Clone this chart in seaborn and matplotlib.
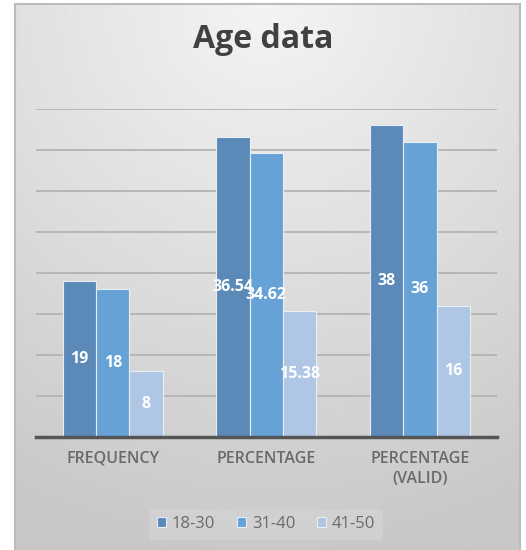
import numpy as np
import pandas as pd
import matplotlib
matplotlib.use("Agg")
import matplotlib.pyplot as plt
import seaborn as sns
from matplotlib.patches import Rectangle

categories = ["FREQUENCY", "PERCENTAGE", "PERCENTAGE\n(VALID)"]
age_groups = ["18-30", "31-40", "41-50"]
v_18_30 = [19, 36.54, 38]
v_31_40 = [18, 34.62, 36]
v_41_50 = [8, 15.38, 16]
colors = ["#5b8ab8", "#67a2d6", "#afc7e5"]

df = pd.DataFrame({
    "category": categories * 3,
    "age": [g for g in age_groups for _ in categories],
    "value": v_18_30 + v_31_40 + v_41_50,
})

sns.set_theme(style="white")
plt.rcParams["font.family"] = ["Open Sans", "DejaVu Sans"]

W, H = 526, 550
fig = plt.figure(figsize=(W / 100, H / 100), dpi=100)

# chart background: gray gradient inside a framed panel
bg = fig.add_axes([0, 0, 1, 1], zorder=-10)
bg.set_xlim(0, W)
bg.set_ylim(H, 0)
bg.axis("off")
x0, x1, y0, y1 = 15, 520, 4, 551
yy, xx = np.mgrid[0:200, 0:200]
u = xx / 199.0
v = yy / 199.0
d = np.sqrt(((u - 0.5) * 0.9) ** 2 + (v * 1.0) ** 2)
d = np.clip(d / 1.0, 0, 1)
top, bot = 0.955, 0.785
grad = top - (top - bot) * d
bg.imshow(grad, cmap="gray", vmin=0, vmax=1, extent=[x0, x1, y1, y0],
          aspect="auto", interpolation="bilinear")
bg.add_patch(Rectangle((x0, y0), x1 - x0, y1 - y0, fill=False,
                       edgecolor="#bcbcbc", linewidth=1.5))

ax = fig.add_axes([36 / W, 1 - 436.7 / H, (496.7 - 36) / W, (436.7 - 109) / H])
ax.patch.set_alpha(0)
sns.barplot(data=df, x="category", y="value", hue="age", order=categories,
            hue_order=age_groups, palette=colors, width=0.65, ax=ax,
            edgecolor="#e8eef6", linewidth=0.8, saturation=1, legend=True,
            zorder=3)
ax.set_ylim(0, 40)
ax.set_yticks(np.arange(5, 41, 5))
ax.yaxis.grid(True, color="#b3b3b3", linewidth=1.3, zorder=0)
ax.set_axisbelow(True)
ax.tick_params(axis="y", left=False, labelleft=False)
ax.tick_params(axis="x", bottom=False, pad=4)
ax.set_xticks(range(len(categories)))
ax.set_xticklabels(categories, fontsize=11.5, color="#6a6a6a",
                   fontweight="semibold", linespacing=1.4)
ax.set_xlabel("")
ax.set_ylabel("")
for s in ["left", "right", "top"]:
    ax.spines[s].set_visible(False)
ax.spines["bottom"].set_color("#555555")
ax.spines["bottom"].set_linewidth(2.5)
ax.spines["bottom"].set_zorder(4)

for cont in ax.containers:
    ax.bar_label(cont, label_type="center", fmt="{:g}", color="white",
                 fontsize=11.5, fontweight="bold", zorder=5)

handles, labels = ax.get_legend_handles_labels()
ax.legend(handles, labels, loc="center", bbox_to_anchor=(266 / W, 1 - 524 / H),
          bbox_transform=fig.transFigure, ncol=3, frameon=True,
          facecolor="#d6d6d6", edgecolor="none", framealpha=0.6,
          handlelength=0.55, handleheight=0.55, handletextpad=0.35,
          columnspacing=1.3, fontsize=12, labelcolor="#6a6a6a",
          borderpad=0.45)

fig.text(0.5, 1 - 40 / H, "Age data", ha="center", va="center",
         fontsize=23, fontweight="bold", color="#404040")

fig.savefig("out.png", dpi=100)
